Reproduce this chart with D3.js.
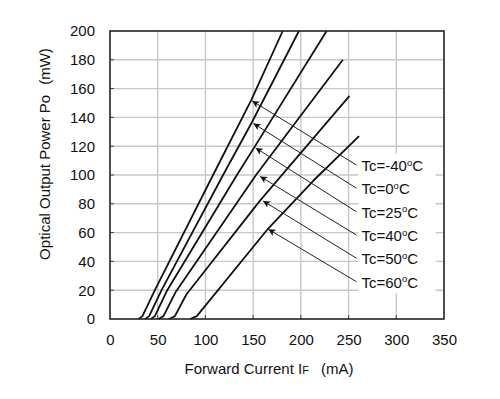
<!DOCTYPE html>
<html><head><meta charset="utf-8">
<script src="https://cdn.jsdelivr.net/npm/d3@7"></script>
<style>body{margin:0;background:#fff}svg{display:block}text{font-family:"Liberation Sans",Arial,sans-serif;fill:#111}</style>
</head><body><svg id="c" width="500" height="399"></svg>
<script>
// ---- data (Forward current mA, Optical output mW) ----
const xTicks = [0,50,100,150,200,250,300,350];
const yTicks = [0,20,40,60,80,100,120,140,160,180,200];
const seriesNames = ["-40","0","25","40","50","60"];
const curveM40 = [[30,0],[34,2],[47,20],[108,100],[148,152],[181,200]];
const curve0   = [[37,0],[41,2],[54,20],[118.5,100],[149,137],[198,200]];
const curve25  = [[43,0],[47,2],[60,20],[133,100],[151,119],[227,200]];
const curve40  = [[51,0],[56,2],[69,19],[153,100],[244,180]];
const curve50  = [[62,0],[68,2],[80,17],[157,82],[251,155]];
const curve60  = [[84,0],[91,2],[166,63],[213,96],[261,127]];
const arrowTips = [[149,151.4],[150.3,135.8],[152.6,118.8],[157.3,99],[160.4,82],[166,62.3]];
const labelAnchors = [[258.3,106.9],[258.3,90.8],[258.3,74.5],[258.3,58.3],[258.3,42.2],[258.3,25.9]];
const curves = [curveM40,curve0,curve25,curve40,curve50,curve60];

const svg = d3.select("#c");
const L=110,R=444,T=31,B=319;
const x = d3.scaleLinear().domain([0,350]).range([L,R]);
const y = d3.scaleLinear().domain([0,200]).range([B,T]);
const FS = 15;

svg.append("rect").attr("width",500).attr("height",399).attr("fill","#fff");

// grid
const g = svg.append("g");
g.selectAll(".vg").data(xTicks.slice(1,-1)).enter().append("line")
  .attr("x1",d=>x(d)).attr("x2",d=>x(d)).attr("y1",T).attr("y2",B)
  .attr("stroke","#c8c8c8").attr("stroke-width",1.4);
g.selectAll(".hg").data(yTicks.slice(1,-1)).enter().append("line")
  .attr("y1",d=>y(d)).attr("y2",d=>y(d)).attr("x1",L).attr("x2",R)
  .attr("stroke","#c8c8c8").attr("stroke-width",1.4);

// axes (labels only, via d3 axes)
const xAxis = svg.append("g").attr("transform",`translate(0,${B})`)
  .call(d3.axisBottom(x).tickValues(xTicks).tickSize(0).tickPadding(15));
const yAxis = svg.append("g").attr("transform",`translate(${L},0)`)
  .call(d3.axisLeft(y).tickValues(yTicks).tickSize(0).tickPadding(15));
[xAxis,yAxis].forEach(a=>{a.select(".domain").remove();
  a.selectAll("text").attr("font-size",FS).attr("font-family","Liberation Sans, Arial, sans-serif").attr("fill","#111");});

// small inner ticks
svg.append("g").selectAll("line").data(yTicks.slice(1,-1)).enter().append("line")
  .attr("x1",L).attr("x2",L+4).attr("y1",d=>y(d)).attr("y2",d=>y(d)).attr("stroke","#444").attr("stroke-width",1);
svg.append("g").selectAll("line").data(xTicks.slice(1,-1)).enter().append("line")
  .attr("x1",d=>x(d)).attr("x2",d=>x(d)).attr("y1",B).attr("y2",B-4).attr("stroke","#444").attr("stroke-width",1);

// label background boxes (hide grid behind labels)
const lab = svg.append("g");
labelAnchors.forEach((a,i)=>{
  lab.append("rect").attr("x",x(a[0])+2).attr("y",y(a[1])-11.5).attr("width",77).attr("height",23).attr("fill","#fff");
});

// curves
const line = d3.line().x(d=>x(d[0])).y(d=>y(d[1])).curve(d3.curveLinear);
svg.append("g").selectAll("path").data(curves).enter().append("path")
  .attr("d",line).attr("fill","none").attr("stroke","#111").attr("stroke-width",1.8)
  .attr("stroke-linejoin","round");

// arrows
svg.append("defs").append("marker").attr("id","ah").attr("viewBox","0 0 10 10")
  .attr("refX",10).attr("refY",5).attr("markerWidth",9).attr("markerHeight",7)
  .attr("markerUnits","userSpaceOnUse").attr("orient","auto")
  .append("path").attr("d","M0,0 L10,5 L0,10 L2.5,5 Z").attr("fill","#111");
svg.append("g").selectAll("line").data(arrowTips).enter().append("line")
  .attr("x1",(d,i)=>x(labelAnchors[i][0])).attr("y1",(d,i)=>y(labelAnchors[i][1]))
  .attr("x2",d=>x(d[0])).attr("y2",d=>y(d[1]))
  .attr("stroke","#222").attr("stroke-width",1).attr("marker-end","url(#ah)");

// labels
labelAnchors.forEach((a,i)=>{
  const t = lab.append("text").attr("x",x(a[0])+5).attr("y",y(a[1])+6).attr("font-size",FS);
  t.append("tspan").text("Tc="+seriesNames[i]);
  t.append("tspan").attr("font-size",9.5).attr("dy",-5.5).text("o");
  t.append("tspan").attr("dy",5.5).text("C");
});
svg.node().appendChild(lab.node());

// border
svg.append("rect").attr("x",L).attr("y",T).attr("width",R-L).attr("height",B-T)
  .attr("fill","none").attr("stroke","#222").attr("stroke-width",1.6);

// axis titles
const xt = svg.append("text").attr("x",269).attr("y",374).attr("text-anchor","middle").attr("font-size",FS);
xt.append("tspan").text("Forward Current I");
xt.append("tspan").attr("font-size",11).text("F");
xt.append("tspan").attr("dx",12).text("(mA)");
const yt = svg.append("text").attr("transform","translate(50,154) rotate(-90)").attr("text-anchor","middle").attr("font-size",FS);
yt.append("tspan").text("Optical Output Power Po");
yt.append("tspan").attr("dx",10).text("(mW)");
</script></body></html>
